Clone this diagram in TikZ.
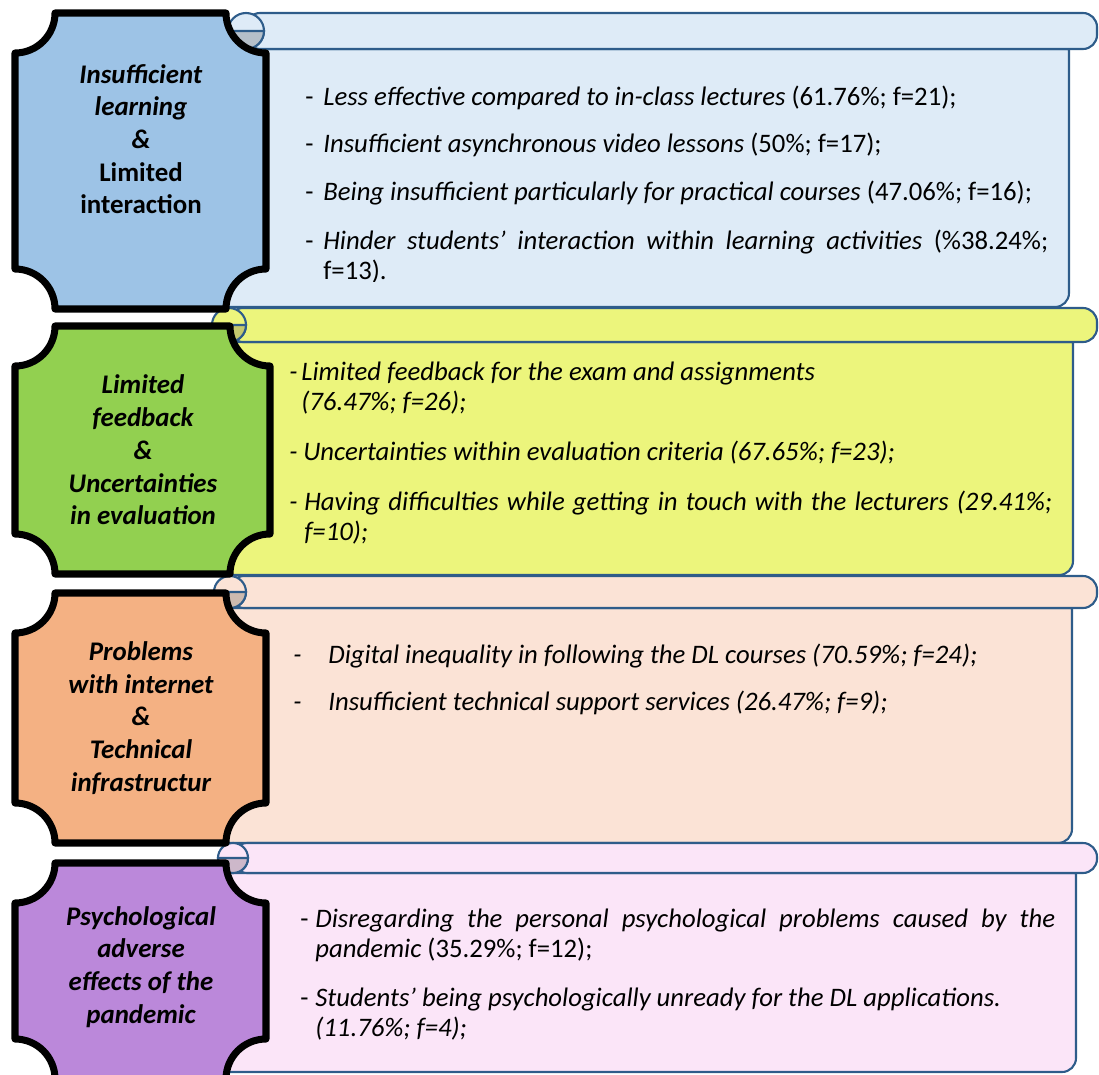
\documentclass[tikz,border=0pt]{standalone}
\usepackage{fontspec}
\setmainfont{Carlito}
\usetikzlibrary{positioning}
\definecolor{scrline}{HTML}{2E5C8A}
\definecolor{learnblue}{HTML}{9DC3E6}
\definecolor{learnpale}{HTML}{DEEBF7}
\definecolor{learnshade}{HTML}{B5BFC9}
\definecolor{feedgreen}{HTML}{92D050}
\definecolor{feedpale}{HTML}{ECF57C}
\definecolor{feedshade}{HTML}{C4C86E}
\definecolor{techorange}{HTML}{F4B183}
\definecolor{techpale}{HTML}{FBE3D6}
\definecolor{techshade}{HTML}{CDBAAF}
\definecolor{psypurple}{HTML}{BB88DA}
\definecolor{psypale}{HTML}{FBE5F8}
\definecolor{psyshade}{HTML}{CDB8CA}
\tikzset{
  plaque/.style={
    draw=black,
    line width=4pt,
    line join=round
  },
  scroll/.style={
    draw=scrline,
    line width=1.2pt
  },
  cattext/.style={
    font=\bfseries\fontsize{15.3}{18.6}\selectfont,
    align=center,
    inner sep=0pt
  },
  item/.style={
    font=\fontsize{15.2}{17.6}\selectfont,
    align=justify,
    inner sep=0pt,
    anchor=base west
  }
}
% left, top, right, bottom (px), fill
\newcommand{\plaqueshape}[5]{%
  \filldraw[plaque, fill=#5] (#1+40,-#2) -- (#3-40,-#2)
    arc[start angle=180, end angle=270, radius=40] -- (#3,-#4+40)
    arc[start angle=90, end angle=180, radius=40] -- (#1+40,-#4)
    arc[start angle=0, end angle=90, radius=40] -- (#1,-#2-40)
    arc[start angle=270, end angle=360, radius=40] -- cycle;}
% roll x, bar top, bar bottom, body right, body bottom, fill, shade
\newcommand{\scrollbanner}[7]{%
  \filldraw[scroll, fill=#6] (#1-40,-#3) -- (#4,-#3) -- (#4,-#5+14)
    arc[start angle=0, end angle=-90, radius=14] -- (#1-40,-#5) -- cycle;
  \filldraw[scroll, fill=#6, rounded corners=8pt] (#1,-#2) rectangle (1097,-#3);
  \filldraw[scroll, fill=#6] (#1,{-(#2+#3)/2}) circle[radius={(#3-#2)/2}];
  \filldraw[scroll, fill=#7] ({#1-(#3-#2)/2},{-(#2+#3)/2})
    arc[start angle=180, end angle=360, radius={(#3-#2)/2}] -- cycle;}
\newcommand{\dashitem}[2]{\hangindent=#1\hangafter=1\makebox[#1][l]{-}#2\par}

\begin{document}
\begin{tikzpicture}[x=0.02cm, y=0.02cm]
\useasboundingbox (0,0) rectangle (1099,-1075);

% scrolls
\scrollbanner{246}{13}{49}{1069}{307}{learnpale}{learnshade}
\scrollbanner{229}{308}{342}{1073}{575}{feedpale}{feedshade}
\scrollbanner{230}{576}{608}{1072}{843}{techpale}{techshade}
\scrollbanner{233}{843}{873}{1076}{1072}{psypale}{psyshade}

% plaques
\plaqueshape{15}{13}{266}{309}{learnblue}
\plaqueshape{15}{326}{270}{574}{feedgreen}
\plaqueshape{15}{593}{266}{843}{techorange}
\plaqueshape{15}{863}{266}{1079}{psypurple}

\node[cattext] (learning) at (141,-139)
  {\textit{Insufficient}\\ \textit{learning}\\ \textit{\&}\\ Limited\\ interaction};
\node[cattext, font=\bfseries\itshape\fontsize{15.3}{18.6}\selectfont] (feedback) at (143,-450)
  {Limited\\ feedback\\ \&\\ Uncertainties\\ in evaluation};
\node[cattext, font=\bfseries\itshape\fontsize{15.3}{18.6}\selectfont] (internet) at (141,-718)
  {Problems\\ with internet\\ \&\\ Technical\\ infrastructur};
\node[cattext, font=\bfseries\itshape\fontsize{15.3}{18.6}\selectfont] (psych) at (141,-967)
  {Psychological\\ adverse\\ effects of the\\ pandemic};

% learning items
\node[item, text width=14.86cm] (learnA) at (305,-105)
  {\dashitem{0.36cm}{\textit{Less effective compared to in-class lectures} (61.76\%; f=21);}};
\node[item, text width=14.86cm] (learnB) at (305,-152)
  {\dashitem{0.36cm}{\textit{Insufficient asynchronous video lessons} (50\%; f=17);}};
\node[item, text width=14.86cm] (learnC) at (305,-200)
  {\dashitem{0.36cm}{\textit{Being insufficient particularly for practical courses} (47.06\%; f=16);}};
\begin{scope}
  \clip (270,-49) rectangle (1069,-281);
  \node[item, text width=14.86cm] (learnD) at (305,-249)
    {\dashitem{0.36cm}{\textit{Hinder students’ interaction within learning activities} (\%38.24\%;\linebreak f=13).}};
\end{scope}

% feedback items
\node[item, text width=15.26cm, font=\itshape\fontsize{15.2}{17.6}\selectfont] (feedA) at (289,-380)
  {\dashitem{0.24cm}{Limited feedback for the exam and assignments\newline (76.47\%; f=26);}};
\node[item, text width=15.26cm, font=\itshape\fontsize{15.2}{17.6}\selectfont] (feedB) at (289,-460)
  {\dashitem{0.28cm}{Uncertainties within evaluation criteria (67.65\%; f=23);}};
\node[item, text width=15.26cm, font=\itshape\fontsize{15.2}{17.6}\selectfont] (feedC) at (289,-510)
  {\dashitem{0.3cm}{Having difficulties while getting in touch with the lecturers (29.41\%;\linebreak f=10);}};

% internet items
\node[item, text width=15cm, font=\itshape\fontsize{15.2}{17.6}\selectfont] (techA) at (293,-663)
  {\dashitem{0.7cm}{Digital inequality in following the DL courses (70.59\%; f=24);}};
\node[item, text width=15cm, font=\itshape\fontsize{15.2}{17.6}\selectfont] (techB) at (293,-710)
  {\dashitem{0.7cm}{Insufficient technical support services (26.47\%; f=9);}};

% psychological items
\node[item, text width=15.1cm] (psyA) at (300,-927)
  {\dashitem{0.3cm}{\textit{Disregarding the personal psychological problems caused by the}\linebreak \textit{pandemic} (35.29\%; f=12);}};
\node[item, text width=15.1cm] (psyB) at (300,-1006)
  {\dashitem{0.3cm}{\textit{Students’ being psychologically unready for the DL applications.}\newline \textit{(11.76\%; f=4);}}};

\end{tikzpicture}
\end{document}
